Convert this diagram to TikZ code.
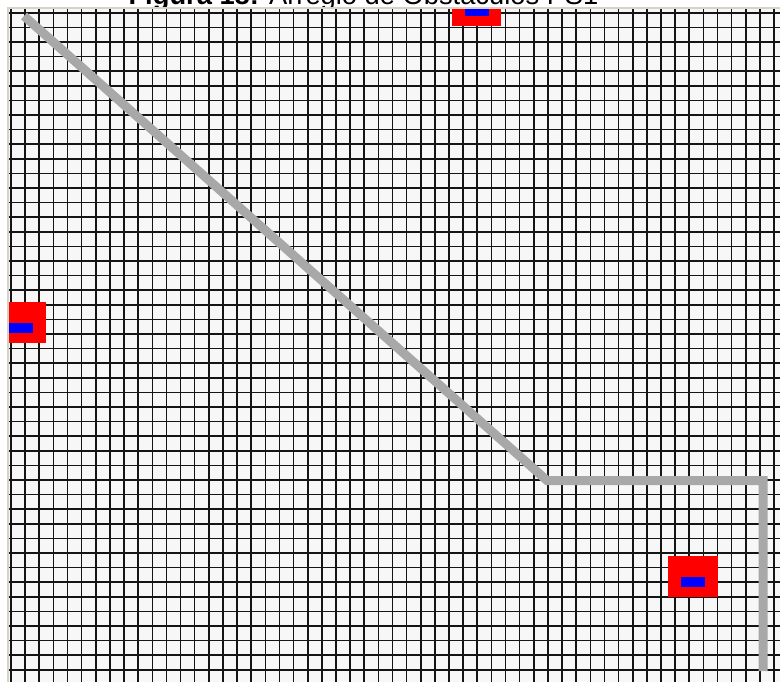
\documentclass[tikz,border=0pt]{standalone}
\usepackage{fontspec}
\setmainfont{Liberation Sans}
\definecolor{gridbg}{RGB}{247,247,247}
\definecolor{framec}{RGB}{214,210,200}
\definecolor{pathc}{RGB}{168,168,168}
\definecolor{obsred}{RGB}{255,0,0}
\definecolor{obsblue}{RGB}{0,0,255}
\definecolor{gridc}{RGB}{20,20,20}
\tikzset{
  gridline/.style={line width=1.6pt, draw=gridc},
  routeline/.style={draw=pathc, line width=9pt},
  obstacle/.pic={
    \fill[obsred] (-24.7,-20.5) rectangle (24.7,20.5);
    \fill[obsblue] (-12,0.5) rectangle (12,10.5);
  }
}
\begin{document}
\begin{tikzpicture}[x=1pt,y=-1pt]
\useasboundingbox (0,0) rectangle (780,681);
\fill[white] (0,0) rectangle (780,681);
\node[anchor=base, inner sep=0pt, font=\fontsize{27.3}{30}\selectfont] (title) at (363.5,4.6) {\textbf{Figura 18:} Arreglo de Obstáculos PS1};
\fill[gridbg] (8,8) rectangle (800,700);
\begin{scope}
  \clip (9,9.5) rectangle (800,700);
  \foreach \k in {0,...,54} \draw[gridline] ({11+14.13*\k},0) -- ++(0,700);
  \foreach \j in {0,...,45} \draw[gridline] (0,{12.7+14.6*\j}) -- ++(800,0);
  \pic (obsTop) at (476.7,5.5) {obstacle};
  \pic (obsLeft) at (21.3,322.5) {obstacle};
  \pic (obsRight) at (693,576.2) {obstacle};
  \coordinate (start) at (24,16);
  \coordinate (bend) at (547,480.5);
  \coordinate (corner) at (763,480.5);
  \coordinate (goal) at (763,671);
  \draw[routeline] (start) -- (bend) -- (corner) -- (goal);
\end{scope}
\draw[framec, line width=1.2pt] (8,700) -- (8,8) -- (800,8);
\end{tikzpicture}
\end{document}
